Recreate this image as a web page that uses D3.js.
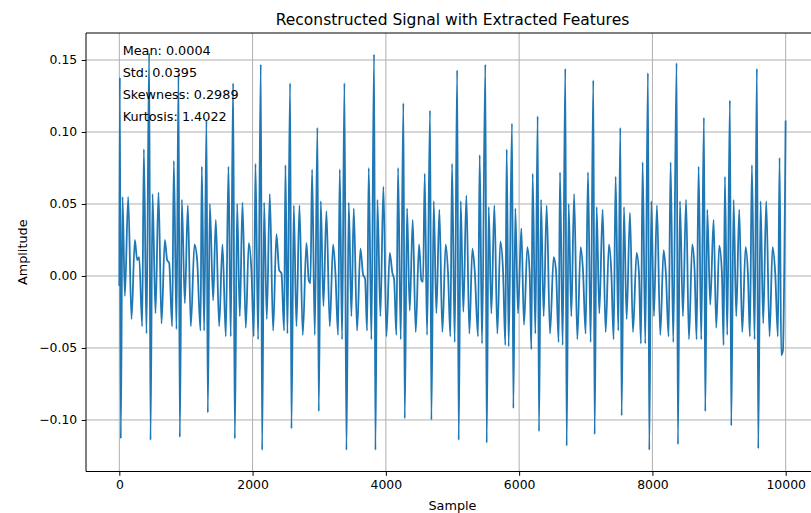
<!DOCTYPE html>
<html>
<head>
<meta charset="utf-8">
<script src="https://cdn.jsdelivr.net/npm/d3@7"></script>
<style>
  html, body { margin: 0; padding: 0; background: #ffffff; }
  svg { display: block; }
  text { font-family: "DejaVu Sans", sans-serif; fill: #000; }
</style>
</head>
<body>
<svg id="chart" width="811" height="513"></svg>
<script>
// Reconstructed signal, traced as its turning points (sample index, amplitude)
const samples = [
  0, 8, 22, 48, 83, 133, 183, 233, 268, 298, 343, 368, 408, 448, 468, 498, 543, 588, 633, 683,
  718, 748, 793, 818, 858, 888, 908, 938, 983, 1028, 1073, 1128, 1168, 1218, 1238, 1273, 1308, 1328, 1358, 1408,
  1448, 1498, 1548, 1598, 1638, 1672, 1708, 1733, 1768, 1808, 1848, 1898, 1943, 1983, 2018, 2043, 2083, 2123, 2143, 2173,
  2213, 2258, 2308, 2358, 2398, 2433, 2473, 2493, 2523, 2563, 2583, 2618, 2658, 2703, 2753, 2808, 2843, 2868, 2893, 2933,
  2973, 2993, 3023, 3063, 3108, 3158, 3208, 3243, 3283, 3308, 3343, 3378, 3408, 3443, 3483, 3518, 3568, 3618, 3658, 3688,
  3718, 3743, 3783, 3823, 3843, 3873, 3918, 3963, 4008, 4058, 4098, 4123, 4158, 4183, 4223, 4263, 4283, 4318, 4358, 4403,
  4448, 4498, 4533, 4558, 4583, 4618, 4663, 4683, 4718, 4758, 4803, 4848, 4898, 4933, 4968, 4993, 5033, 5070, 5093, 5123,
  5163, 5208, 5253, 5298, 5333, 5383, 5408, 5443, 5493, 5513, 5543, 5583, 5628, 5673, 5718, 5758, 5793, 5813, 5843, 5893,
  5913, 5943, 5983, 6033, 6073, 6123, 6158, 6183, 6203, 6243, 6278, 6298, 6328, 6368, 6413, 6463, 6518, 6553, 6593, 6613,
  6653, 6693, 6713, 6743, 6783, 6825, 6873, 6923, 6958, 6998, 7033, 7073, 7113, 7133, 7163, 7203, 7253, 7298, 7348, 7383,
  7418, 7448, 7488, 7518, 7538, 7573, 7613, 7663, 7708, 7763, 7798, 7828, 7853, 7893, 7933, 7953, 7983, 8023, 8068, 8118,
  8168, 8203, 8243, 8273, 8313, 8363, 8383, 8413, 8458, 8505, 8548, 8598, 8633, 8663, 8693, 8733, 8773, 8793, 8823, 8868,
  8918, 8958, 9003, 9043, 9068, 9088, 9123, 9163, 9183, 9218, 9258, 9303, 9348, 9398, 9433, 9463, 9493, 9533, 9568, 9588,
  9623, 9663, 9708, 9758, 9803, 9843, 9883, 9908, 9933, 9958, 9999
];
const amplitudes = [
  -0.007, 0.138, -0.113, 0.055, -0.014, 0.055, -0.030, 0.025, 0.011, 0.013, -0.035, 0.088, -0.040, 0.155, -0.114, 0.057, -0.026, 0.058, -0.033, 0.025,
  0.011, 0.009, -0.035, 0.080, -0.037, 0.140, -0.112, 0.053, -0.019, 0.049, -0.035, 0.022, 0.011, -0.038, 0.076, -0.038, 0.108, -0.095, 0.050, -0.017,
  0.039, -0.035, 0.022, -0.042, 0.076, -0.042, 0.134, -0.113, 0.050, -0.028, 0.051, -0.036, 0.023, 0.003, -0.042, 0.078, -0.044, 0.147, -0.121, 0.051,
  -0.030, 0.057, -0.038, 0.029, 0.004, 0.002, -0.038, 0.077, -0.040, 0.134, -0.106, 0.049, -0.035, 0.049, -0.041, 0.023, -0.003, -0.005, 0.074, -0.041,
  0.103, -0.094, 0.052, -0.021, 0.045, -0.035, 0.022, 0.002, -0.041, 0.074, -0.044, 0.134, -0.121, 0.051, -0.028, 0.047, -0.038, 0.019, 0.001, -0.002,
  -0.038, 0.075, -0.044, 0.154, -0.121, 0.053, -0.028, 0.062, -0.042, 0.016, 0.002, -0.002, -0.041, 0.075, -0.044, 0.120, -0.099, 0.047, -0.024, 0.039,
  -0.039, 0.022, -0.003, -0.004, 0.071, -0.041, 0.115, -0.100, 0.052, -0.026, 0.046, -0.039, 0.022, 0.002, -0.042, 0.078, -0.046, 0.143, -0.114, 0.052,
  -0.025, 0.056, -0.040, 0.019, 0.004, -0.042, 0.084, -0.047, 0.147, -0.116, 0.048, -0.026, 0.049, -0.040, 0.024, 0.004, -0.048, 0.088, -0.049, 0.106,
  -0.092, 0.047, -0.026, 0.033, -0.034, 0.020, 0.002, -0.051, 0.071, -0.040, 0.111, -0.108, 0.053, -0.028, 0.049, -0.040, 0.013, 0.004, -0.046, 0.072,
  -0.048, 0.144, -0.118, 0.050, -0.028, 0.057, -0.044, 0.020, 0.004, -0.040, 0.072, -0.046, 0.136, -0.110, 0.048, -0.026, 0.046, -0.039, 0.022, 0.003,
  -0.044, 0.069, -0.038, 0.103, -0.097, 0.048, -0.030, 0.044, -0.039, 0.016, 0.002, -0.047, 0.079, -0.047, 0.141, -0.121, 0.052, -0.028, 0.049, -0.041,
  0.018, 0.001, -0.042, 0.079, -0.046, 0.148, -0.117, 0.052, -0.028, 0.053, -0.044, 0.022, 0.004, -0.044, 0.076, -0.044, 0.110, -0.094, 0.046, -0.020,
  0.039, -0.036, 0.021, 0.002, -0.048, 0.069, -0.041, 0.122, -0.104, 0.053, -0.028, 0.046, -0.039, 0.020, 0.002, -0.042, 0.077, -0.044, 0.144, -0.120,
  0.052, -0.033, 0.052, -0.042, 0.020, 0.002, -0.042, 0.082, -0.055, -0.052, 0.108
];

// Tick values and feature annotations
const xTicks = [0, 2000, 4000, 6000, 8000, 10000];
const yTicks = [-0.10, -0.05, 0.00, 0.05, 0.10, 0.15];
const featureLabels = ["Mean: 0.0004", "Std: 0.0395", "Skewness: 0.2989", "Kurtosis: 1.4022"];

const titleText = "Reconstructed Signal with Extracted Features";
const xLabel = "Sample";
const yLabel = "Amplitude";

const svg = d3.select("#chart");
const W = 811, H = 513;
const plot = { left: 86, right: 819, top: 33, bottom: 471.5 };

const x = d3.scaleLinear().domain([-500, 10500]).range([plot.left, plot.right]);
const y = d3.scaleLinear().domain([-0.1358, 0.16875]).range([plot.bottom, plot.top]);

const tickFont = 12.4;
const minus = v => d3.format(".2f")(v).replace("-", "\u2212");

// Grid lines
const grid = svg.append("g").attr("class", "grid");
grid.selectAll("line.gx").data(xTicks).join("line")
  .attr("x1", d => x(d)).attr("x2", d => x(d))
  .attr("y1", plot.top).attr("y2", plot.bottom)
  .attr("stroke", "#b0b0b0").attr("stroke-width", 1);
grid.selectAll("line.gy").data(yTicks).join("line")
  .attr("x1", plot.left).attr("x2", plot.right)
  .attr("y1", d => y(d)).attr("y2", d => y(d))
  .attr("stroke", "#b0b0b0").attr("stroke-width", 1);

// Signal line
svg.append("clipPath").attr("id", "plotClip")
  .append("rect")
  .attr("x", plot.left).attr("y", plot.top)
  .attr("width", plot.right - plot.left).attr("height", plot.bottom - plot.top);

const points = samples.map((s, i) => [s, amplitudes[i]]);
const line = d3.line()
  .x(d => x(d[0]))
  .y(d => y(d[1]))
  .curve(d3.curveMonotoneX);

svg.append("path")
  .datum(points)
  .attr("clip-path", "url(#plotClip)")
  .attr("fill", "none")
  .attr("stroke", "#1f77b4")
  .attr("stroke-width", 1.8)
  .attr("stroke-linejoin", "round")
  .attr("d", line);

// Axes
const xAxis = d3.axisBottom(x).tickValues(xTicks).tickSize(4.3).tickPadding(4.5).tickFormat(d3.format("d"));
const yAxis = d3.axisLeft(y).tickValues(yTicks).tickSize(4.3).tickPadding(4.5).tickFormat(minus);

const gx = svg.append("g").attr("transform", `translate(0,${plot.bottom})`).call(xAxis);
const gy = svg.append("g").attr("transform", `translate(${plot.left},0)`).call(yAxis);
[gx, gy].forEach(g => {
  g.select(".domain").remove();
  g.selectAll(".tick line").attr("stroke", "#000").attr("stroke-width", 1);
  g.selectAll(".tick text")
    .attr("font-family", "DejaVu Sans, sans-serif")
    .attr("font-size", tickFont)
    .attr("fill", "#000");
});

// Frame
const frame = svg.append("g").attr("fill", "none").attr("stroke", "#000").attr("stroke-width", 1);
frame.append("line").attr("x1", plot.left).attr("x2", plot.left).attr("y1", plot.top).attr("y2", plot.bottom);
frame.append("line").attr("x1", plot.left).attr("x2", plot.right).attr("y1", plot.bottom).attr("y2", plot.bottom);
frame.append("line").attr("x1", plot.left).attr("x2", plot.right).attr("y1", plot.top).attr("y2", plot.top);
frame.append("line").attr("x1", plot.right).attr("x2", plot.right).attr("y1", plot.top).attr("y2", plot.bottom);

// Feature text block in axes-fraction placement
const axH = plot.bottom - plot.top, axW = plot.right - plot.left;
svg.append("g").selectAll("text").data(featureLabels).join("text")
  .attr("x", plot.left + 0.05 * axW)
  .attr("y", (d, i) => plot.top + (0.05 + 0.05 * i) * axH)
  .attr("font-size", 12.8)
  .text(d => d);

// Title and axis labels
svg.append("text")
  .attr("x", (plot.left + plot.right) / 2).attr("y", 25)
  .attr("text-anchor", "middle").attr("font-size", 15.5)
  .text(titleText);
svg.append("text")
  .attr("x", (plot.left + plot.right) / 2).attr("y", 510)
  .attr("text-anchor", "middle").attr("font-size", 12.8)
  .text(xLabel);
svg.append("text")
  .attr("transform", `translate(27,${(plot.top + plot.bottom) / 2}) rotate(-90)`)
  .attr("text-anchor", "middle").attr("font-size", 12.8)
  .text(yLabel);
</script>
</body>
</html>
